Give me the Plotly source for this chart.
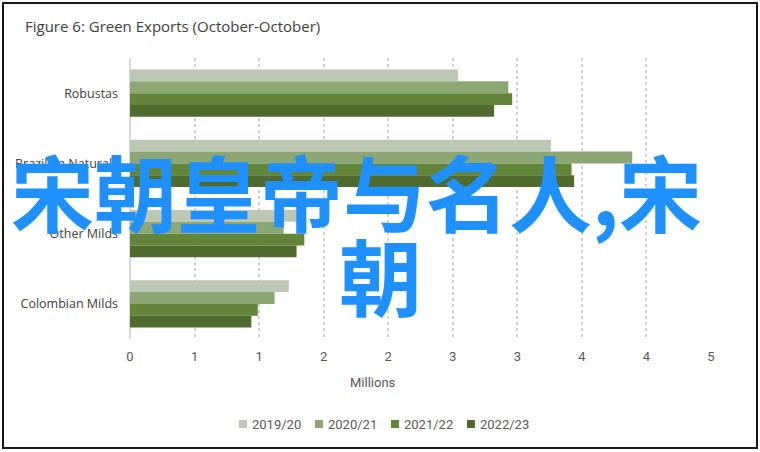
import plotly.graph_objects as go

# categories (top to bottom) and export volumes in millions of bags
categories = ["Robustas", "Brazilian Naturals", "Other Milds", "Colombian Milds"]
seasons = ["2019/20", "2020/21", "2021/22", "2022/23"]
exports_2019_20 = [2.54, 3.26, 1.29, 1.23]
exports_2020_21 = [2.93, 3.89, 1.19, 1.12]
exports_2021_22 = [2.96, 3.42, 1.35, 0.99]
exports_2022_23 = [2.82, 3.44, 1.29, 0.94]

tick_vals = [0, 0.5, 1, 1.5, 2, 2.5, 3, 3.5, 4, 4.5]
tick_text = ["0", "1", "1", "2", "2", "3", "3", "4", "4", "5"]

colors = ["#BDC8B4", "#8CA674", "#63853A", "#4F6B2E"]

W, H = 760, 452
L, R, T, B = 130, 49, 58, 113
PW, PH = W - L - R, H - T - B


def px_x(px):
    return (px - L) / PW


def px_y(py):
    return (H - B - py) / PH


fig = go.Figure()
for name, vals, col in zip(seasons,
                           [exports_2019_20, exports_2020_21, exports_2021_22, exports_2022_23],
                           colors):
    fig.add_trace(go.Bar(
        y=categories, x=vals, name=name, orientation="h",
        marker=dict(color=col, line=dict(width=0)),
        showlegend=False,
    ))

label_font = dict(family="Liberation Sans Narrow, Roboto, sans-serif", size=13, color="#595959")

fig.update_layout(
    width=W, height=H,
    margin=dict(l=L, r=R, t=T, b=B),
    paper_bgcolor="white", plot_bgcolor="white",
    barmode="group", bargap=0.33, bargroupgap=0,
    title=dict(text="Figure 6: Green Exports (October-October)",
               x=25 / W, xanchor="left", xref="container",
               y=1 - 27 / H, yanchor="middle", yref="container",
               font=dict(family="Open Sans", size=15, color="#404040")),
    xaxis=dict(range=[0, 4.5], tickvals=tick_vals, ticktext=tick_text,
               showgrid=True, gridcolor="#D0D0D0", griddash="dot", gridwidth=1.5,
               zeroline=True, zerolinecolor="#D9D9D9", zerolinewidth=1.5,
               showline=False, ticks="", tickfont=label_font, ticklabelstandoff=8),
    yaxis=dict(autorange="reversed", showgrid=False, zeroline=False, ticks="",
               tickfont=dict(family="Open Sans", size=12.5, color="#404040"),
               ticklabelstandoff=11),
)

# axis title
fig.add_annotation(text="Millions", xref="paper", yref="paper",
                   x=px_x(373), y=px_y(382), xanchor="center", yanchor="middle",
                   showarrow=False, font=label_font)

# compact legend: small square swatch + season label
legend_left = 239
legend_step = 76
for i, (name, col) in enumerate(zip(seasons, colors)):
    sx = legend_left + i * legend_step
    fig.add_shape(type="rect", xref="paper", yref="paper",
                  x0=px_x(sx), x1=px_x(sx + 8), y0=px_y(428), y1=px_y(420),
                  fillcolor=col, line=dict(width=0))
    fig.add_annotation(text=name, xref="paper", yref="paper",
                       x=px_x(sx + 11), y=px_y(424), xanchor="left", yanchor="middle",
                       showarrow=False, font=label_font)

# overlay text
overlay_font = dict(family="Noto Sans CJK SC", size=83, color="#1E90FF", weight="bold")
fig.add_annotation(text="宋朝皇帝与名人,宋", xref="paper", yref="paper",
                   x=px_x(356), y=px_y(190), xanchor="center", yanchor="middle",
                   showarrow=False, font=overlay_font)
fig.add_annotation(text="朝", xref="paper", yref="paper",
                   x=px_x(380), y=px_y(274), xanchor="center", yanchor="middle",
                   showarrow=False, font=overlay_font)

# chart border
fig.add_shape(type="rect", xref="paper", yref="paper",
              x0=px_x(3), x1=px_x(757), y0=px_y(448), y1=px_y(3),
              line=dict(color="#1A1A1A", width=2), layer="above")

fig.write_html("out.html", config={"displayModeBar": False},
               post_script="document.body.style.margin='0';")
